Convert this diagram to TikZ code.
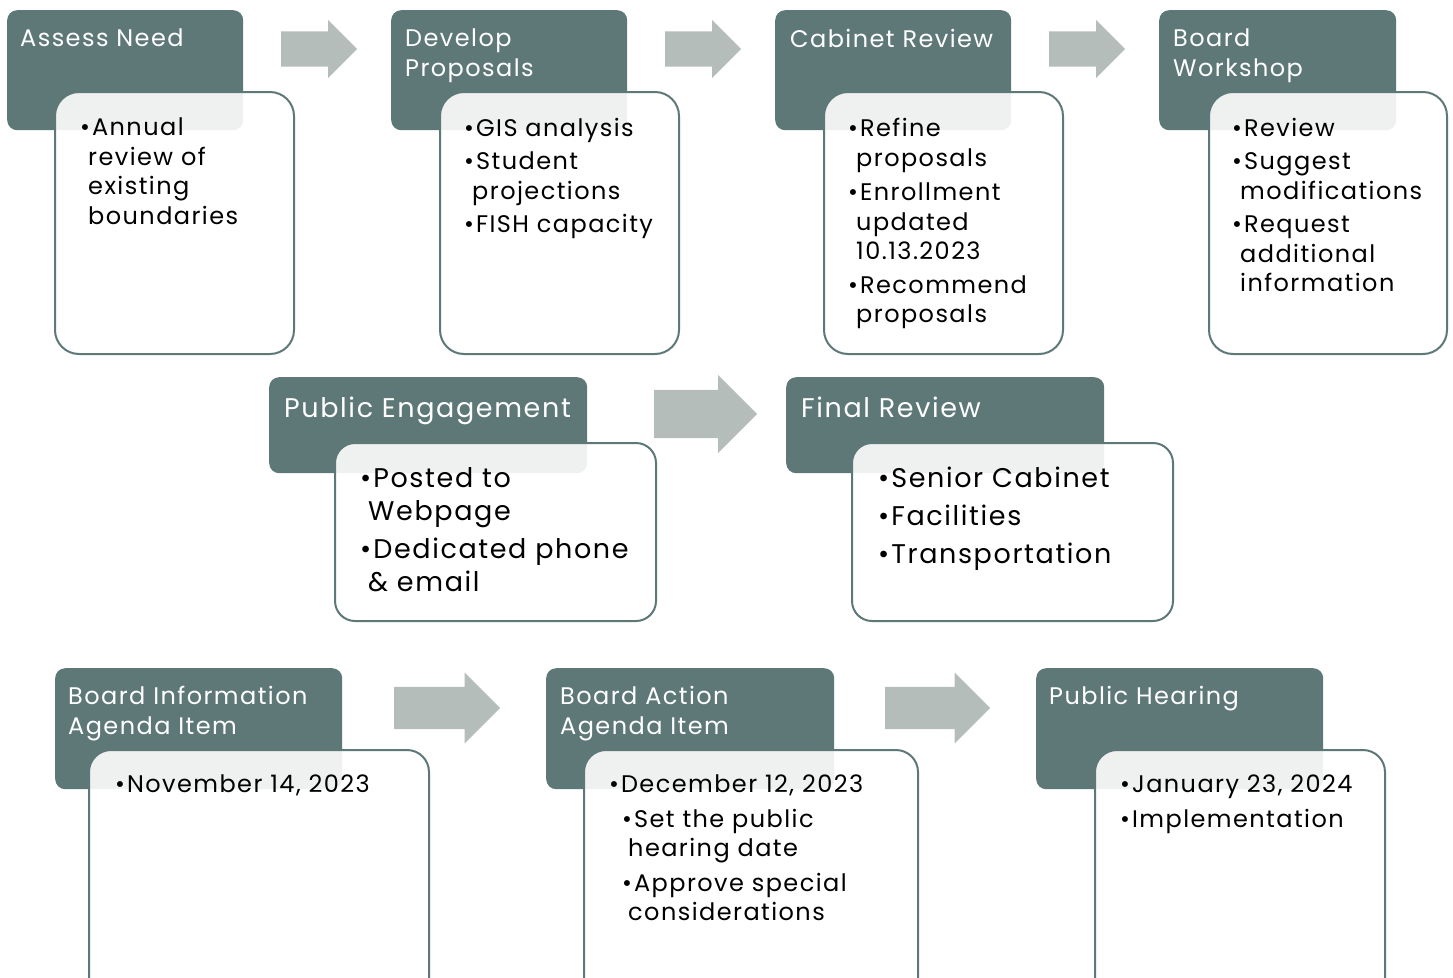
\documentclass[tikz,border=0pt]{standalone}
\usepackage{fontspec}
\setmainfont{Poppins}[LetterSpace=6]
\usetikzlibrary{shapes.arrows}
\definecolor{slate}{RGB}{94,120,120}
\definecolor{arrowgray}{RGB}{181,189,187}
\newcommand\bul{\textbullet\hspace{2pt}}
\newcommand\cont{\hspace*{8pt}}
\tikzset{
  head/.style={fill=slate, rounded corners=10pt, anchor=north west, inner sep=0pt},
  card/.style={draw=slate, line width=2pt, fill=white, fill opacity=0.9, rounded corners=24pt, anchor=north west, inner sep=0pt},
  headtext/.style={text=white, anchor=north west, inner sep=0pt, align=left, font=\fontsize{24}{30}\selectfont},
  cardtext/.style={text=black, anchor=north west, inner sep=0pt, align=left, font=\fontsize{24}{29.5}\selectfont},
  bigtext/.style={font=\fontsize{27}{33}\selectfont},
  steparrow/.style={single arrow, fill=arrowgray, inner xsep=0pt, anchor=tail}
}

\begin{document}
\begin{tikzpicture}[x=1pt, y=-1pt]
\clip (0,0) rectangle (1453,977);

\node[head, minimum width=236pt, minimum height=120pt] (need) at (7,10) {};
\node[card, minimum width=239pt, minimum height=262pt] (needc) at (54,91) {};
\node[headtext] (needt) at (20,29) {Assess Need};
\node[cardtext] (needl) at (80,118) {\bul Annual\\\cont review of\\\cont existing\\\cont boundaries};

\node[head, minimum width=236pt, minimum height=120pt] (dev) at (391,10) {};
\node[card, minimum width=239pt, minimum height=262pt] (devc) at (439,91) {};
\node[headtext] (devt) at (405,29) {Develop\\Proposals};
\node[cardtext] (devl) at (464,118) {\bul GIS analysis\\[4pt]\bul Student\\\cont projections\\[4pt]\bul FISH capacity};

\node[head, minimum width=236pt, minimum height=120pt] (cab) at (775,10) {};
\node[card, minimum width=239pt, minimum height=262pt] (cabc) at (823,91) {};
\node[headtext] (cabt) at (790,29) {Cabinet Review};
\node[cardtext] (cabl) at (848,118) {\bul Refine\\\cont proposals\\[5pt]\bul Enrollment\\\cont updated\\\cont 10.13.2023\\[4pt]\bul Recommend\\\cont proposals};

\node[head, minimum width=237pt, minimum height=120pt] (work) at (1159,10) {};
\node[card, minimum width=238pt, minimum height=262pt] (workc) at (1208,91) {};
\node[headtext] (workt) at (1173,29) {Board\\Workshop};
\node[cardtext] (workl) at (1232,118) {\bul Review\\[4pt]\bul Suggest\\\cont modifications\\[4pt]\bul Request\\\cont additional\\\cont information};

\node[steparrow, minimum height=76pt, inner ysep=17.5pt, single arrow head extend=11.5pt] (a1) at (281,49) {};
\node[steparrow, minimum height=76pt, inner ysep=17.5pt, single arrow head extend=11.5pt] (a2) at (665,49) {};
\node[steparrow, minimum height=76pt, inner ysep=17.5pt, single arrow head extend=11.5pt] (a3) at (1049,49) {};

\node[head, minimum width=318pt, minimum height=96pt] (pub) at (269,377) {};
\node[card, rounded corners=20pt, minimum width=321pt, minimum height=178pt] (pubc) at (334,442) {};
\node[headtext, bigtext] (pubt) at (284,397) {Public Engagement};
\node[cardtext, bigtext] (publ) at (360,467) {\bul Posted to\\\cont Webpage\\[5pt]\bul Dedicated phone\\\cont \& email};

\node[steparrow, minimum height=103pt, inner ysep=24pt, single arrow head extend=15pt] (a4) at (654,414) {};

\node[head, minimum width=318pt, minimum height=96pt] (fin) at (786,377) {};
\node[card, rounded corners=20pt, minimum width=321pt, minimum height=178pt] (finc) at (851,442) {};
\node[headtext, bigtext] (fint) at (801,397) {Final Review};
\node[cardtext, bigtext] (finl) at (878,467) {\bul Senior Cabinet\\[5pt]\bul Facilities\\[5pt]\bul Transportation};

\node[head, minimum width=287pt, minimum height=121pt] (info) at (55,668) {};
\node[card, rounded corners=22pt, minimum width=340pt, minimum height=270pt] (infoc) at (88,749) {};
\node[headtext] (infot) at (68,686) {Board Information\\Agenda Item};
\node[cardtext] (infol) at (115,775) {\bul November 14, 2023};

\node[steparrow, minimum height=106pt, inner ysep=21pt, single arrow head extend=14.5pt] (a5) at (394,708) {};

\node[head, minimum width=288pt, minimum height=121pt] (act) at (546,668) {};
\node[card, rounded corners=22pt, minimum width=334pt, minimum height=270pt] (actc) at (583,749) {};
\node[headtext] (actt) at (560,686) {Board Action\\Agenda Item};
\node[cardtext] (actl) at (609,775) {\bul December 12, 2023\\[5pt]\hspace*{13pt}\bul Set the public\\\hspace*{19pt}hearing date\\[5pt]\hspace*{13pt}\bul Approve special\\\hspace*{19pt}considerations};

\node[steparrow, minimum height=105pt, inner ysep=21pt, single arrow head extend=14.5pt] (a6) at (885,708) {};

\node[head, minimum width=287pt, minimum height=121pt] (hear) at (1036,668) {};
\node[card, rounded corners=22pt, minimum width=290pt, minimum height=270pt] (hearc) at (1094,749) {};
\node[headtext] (heart) at (1049,686) {Public Hearing};
\node[cardtext] (hearl) at (1120,775) {\bul January 23, 2024\\[5pt]\bul Implementation};
\end{tikzpicture}
\end{document}
